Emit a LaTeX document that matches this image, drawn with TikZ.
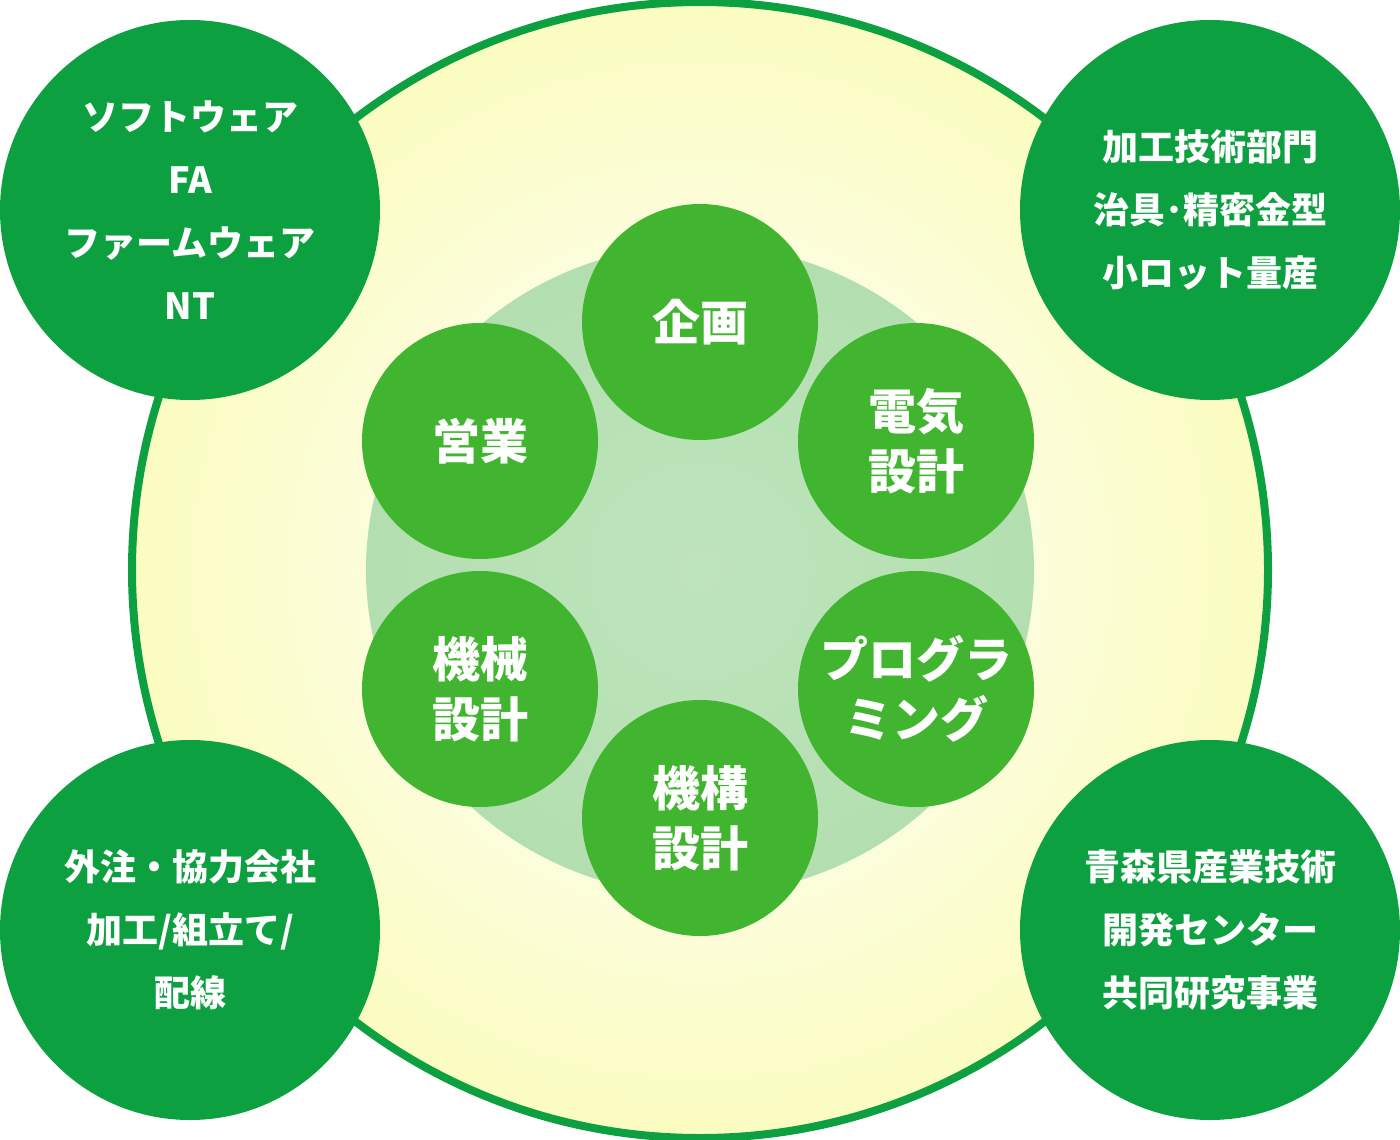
\documentclass[tikz,border=0pt]{standalone}
\usepackage{fontspec}
\usetikzlibrary{shapes.geometric}
\newfontfamily\jp{Noto Sans CJK JP}
\definecolor{dg}{HTML}{0CA040}
\definecolor{lg}{HTML}{42B530}
\definecolor{pg}{HTML}{B3DFB0}
\definecolor{ly}{HTML}{FAFCC0}
\begin{document}
\begin{tikzpicture}[x=1pt,y=-1pt,
  small/.style={circle,fill=lg,minimum size=236pt,inner sep=0pt,text=white,font=\jp\bfseries\fontsize{48}{60}\selectfont,align=center},
  big/.style={circle,fill=dg,minimum size=380pt,inner sep=0pt,text=white,font=\jp\bfseries\fontsize{36}{63}\selectfont,align=center}]
\useasboundingbox (0,0) rectangle (1400,1140);
\node[circle,minimum size=1136pt,inner sep=0pt,inner color=white,outer color=ly,draw=dg,line width=8pt] (outer) at (700,570) {};
\node[ellipse,minimum width=668pt,minimum height=650pt,inner sep=0pt,inner color=pg!85!white,outer color=pg] (mid) at (700,570) {};
\node[small] (a) at (700,322) {企画};
\node[small] (b) at (916,441) {電気\\設計};
\node[small] (c) at (916,689) {プログラ\\ミング};
\node[small] (d) at (700,818) {機構\\設計};
\node[small] (e) at (480,689) {機械\\設計};
\node[small] (f) at (480,441) {営業};
\node[big] (tl) at (190,210) {ソフトウェア\\FA\\ファームウェア\\NT};
\node[big] (tr) at (1210,210) {加工技術部門\\治具･精密金型\\小ロット量産};
\node[big] (bl) at (190,930) {外注・協力会社\\加工/組立て/\\配線};
\node[big] (br) at (1210,930) {青森県産業技術\\開発センター\\共同研究事業};
\end{tikzpicture}
\end{document}
